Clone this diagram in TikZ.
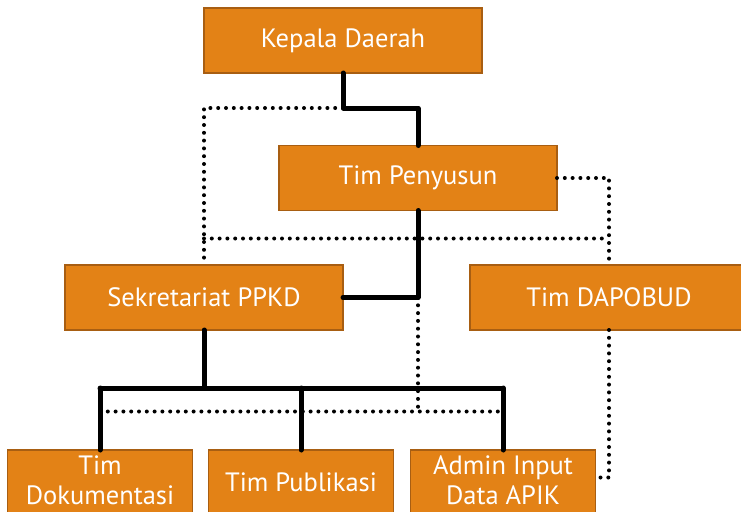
\documentclass[tikz,border=0pt]{standalone}
\usepackage{fontspec}
\setmainfont{PT Sans}
\usetikzlibrary{calc}
\definecolor{boxfill}{RGB}{227,130,22}
\definecolor{boxline}{RGB}{168,94,18}
\newcommand{\lastlift}{\rule[-5pt]{0pt}{5pt}}

\begin{document}
\begin{tikzpicture}[y=1pt, x=1pt, yscale=-1, inner sep=0pt, outer sep=0pt,
  unit/.style={draw=boxline, fill=boxfill, line width=1.2pt, text=white, align=center,
    font=\fontsize{26.5}{30}\selectfont, minimum height=65pt},
  widebox/.style={unit, minimum width=278pt},
  smallbox/.style={unit, minimum width=185pt},
  solidlink/.style={draw=black, line width=5pt, line join=round, line cap=round},
  dotlink/.style={draw=black, line width=4pt, line cap=round, dash pattern=on 0pt off 7.8pt}]
\useasboundingbox (0,0) rectangle (741,511);
\clip (0,0) rectangle (741,511);

\node[widebox] (kepala) at (343,40.5) {Kepala Daerah};

\node[widebox] (penyusun) at (418,178) {Tim Penyusun};

\node[widebox] (sekretariat) at (204,297.5) {Sekretariat PPKD};

\node[widebox] (dapobud) at (609,297.5) {Tim DAPOBUD};

\node[smallbox] (dokumentasi) at (100,482.5) {Tim\\Dokumentasi\lastlift};

\node[smallbox] (publikasi) at (301,482.5) {Tim Publikasi};

\node[smallbox] (admin) at (503,482.5) {Admin Input\\Data APIK\lastlift};

\coordinate (kbend) at ($(kepala.south)+(0,35)$);
\coordinate (crossrow) at ($(penyusun.south)+(0,28)$);
\coordinate (bus) at ($(sekretariat.south)+(0,58)$);
\coordinate (lowrow) at ($(penyusun.south |- sekretariat.east)+(0,114)$);

\path[dotlink] (kbend) -| (sekretariat.north);

\path[dotlink] (crossrow -| sekretariat.north) -- (crossrow -| dapobud.north);

\path[dotlink] (penyusun.east) -| (dapobud.north);

\path[dotlink] (penyusun.south |- sekretariat.east) -- (lowrow);

\path[dotlink] (lowrow -| dokumentasi.north) -- (lowrow -| admin.north);

\path[dotlink] (dapobud.south) |- ([yshift=-5pt]admin.east);

\path[solidlink] (kepala.south) -- (kbend) -| (penyusun.north);

\path[solidlink] (penyusun.south) |- (sekretariat.east);

\path[solidlink] (sekretariat.south) -- (bus);

\path[solidlink] (bus -| dokumentasi.north) -- (bus -| admin.north);

\path[solidlink] (bus -| dokumentasi.north) -- (dokumentasi.north);

\path[solidlink] (bus -| publikasi.north) -- (publikasi.north);

\path[solidlink] (bus -| admin.north) -- (admin.north);

\end{tikzpicture}
\end{document}
